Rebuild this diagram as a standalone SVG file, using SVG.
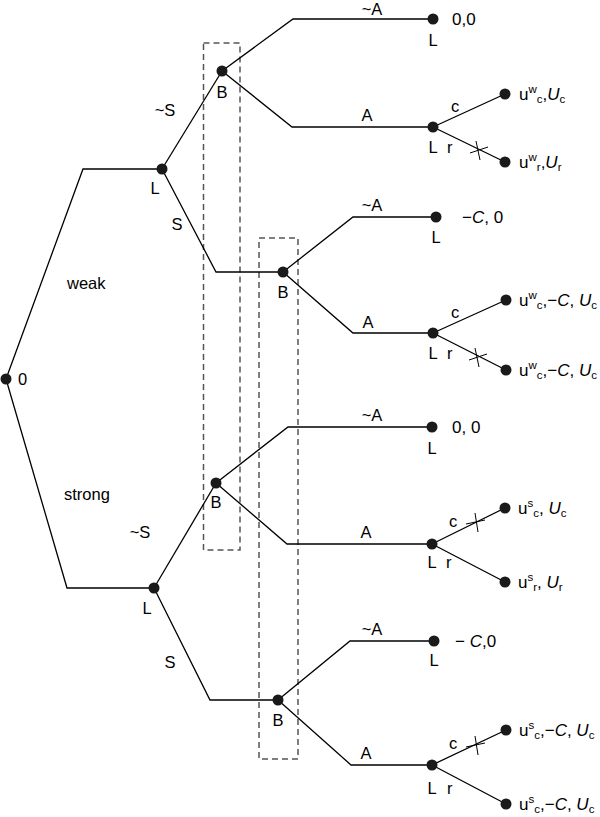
<svg xmlns="http://www.w3.org/2000/svg" width="600" height="817" viewBox="0 0 600 817">
<style>
.e{fill:none;stroke:#000;stroke-width:1.3;stroke-linejoin:miter}
.x{stroke:#000;stroke-width:1}
.n{fill:#1a1a1a}
.box{fill:none;stroke:#555;stroke-width:1.5;stroke-dasharray:6,4}
text{font-family:"Liberation Sans",Arial,sans-serif;font-size:16.5px;fill:#000}
.p{font-size:17px}
.i{font-style:italic}
.s{font-size:11.5px}
.m{text-anchor:middle}
</style>
<rect width="600" height="817" fill="#fff"/>
<g id="infosets">
<rect class="box" x="203.5" y="43" width="36.5" height="507"/>
<rect class="box" x="259" y="238" width="39" height="521"/>
</g>
<g id="connectors">
<path class="e" d="M6,379 L83,169 L162,169"/>
<path class="e" d="M6,379 L67,588 L154,588"/>
<path class="e" d="M162,169 L222,71"/>
<path class="e" d="M162,169 L216,272 L283,272"/>
<path class="e" d="M154,588 L216,483"/>
<path class="e" d="M154,588 L210,700 L278,700"/>
<path class="e" d="M222,71 L293,19 L433,19"/>
<path class="e" d="M222,71 L292,127 L433,127"/>
<path class="e" d="M283,272 L353,217 L436,217"/>
<path class="e" d="M283,272 L353,333 L433,333"/>
<path class="e" d="M216,483 L288,427 L432,427"/>
<path class="e" d="M216,483 L287,544 L432,544"/>
<path class="e" d="M278,700 L350,641 L434,641"/>
<path class="e" d="M278,700 L351,765 L432,765"/>
<path class="e" d="M433,127 L505,94 M433,127 L505,162"/>
<path class="e" d="M433,333 L506,300 M433,333 L506,370"/>
<path class="e" d="M432,544 L505,508 M432,544 L505,582"/>
<path class="e" d="M432,765 L506,730 M432,765 L506,804"/>
<path class="x" d="M470,153 L488,147 M476,141 L480,160"/>
<path class="x" d="M469,360 L487,354 M475,348 L479,367"/>
<path class="x" d="M466,524 L485,520 M475,513 L478,532"/>
<path class="x" d="M466,747 L485,743 M475,736 L478,755"/>
</g>
<g id="root"><circle class="n" cx="6" cy="379" r="5.5"/><text x="18" y="385">0</text></g>
<text x="67" y="289">weak</text>
<text x="64" y="500">strong</text>
<g id="Lw"><circle class="n" cx="162" cy="169" r="5.5"/><text class="m" x="155" y="194">L</text></g>
<text class="m" x="165" y="116">~S</text>
<text class="m" x="177" y="230">S</text>
<g id="Ls"><circle class="n" cx="154" cy="588" r="5.5"/><text class="m" x="147" y="614">L</text></g>
<text class="m" x="140" y="538">~S</text>
<text class="m" x="170" y="668">S</text>
<g id="B1"><circle class="n" cx="222" cy="71" r="5.5"/><text class="m" x="222" y="98">B</text></g>
<g id="B2"><circle class="n" cx="283" cy="272" r="5.5"/><text class="m" x="283" y="298">B</text></g>
<g id="B3"><circle class="n" cx="216" cy="483" r="5.5"/><text class="m" x="216" y="508">B</text></g>
<g id="B4"><circle class="n" cx="278" cy="700" r="5.5"/><text class="m" x="278" y="726">B</text></g>
<text class="m" x="372" y="15">~A</text>
<text class="m" x="367" y="121">A</text>
<text class="m" x="372" y="211">~A</text>
<text class="m" x="368" y="328">A</text>
<text class="m" x="372" y="421">~A</text>
<text class="m" x="366" y="538">A</text>
<text class="m" x="372" y="635">~A</text>
<text class="m" x="366" y="759">A</text>
<g id="leaf1"><circle class="n" cx="433" cy="19" r="5.5"/><text class="m" x="433" y="46">L</text><text class="p" x="452" y="25">0,0</text></g>
<g id="L1"><circle class="n" cx="433" cy="127" r="5.5"/><text class="m" x="433" y="153">L</text><text x="447" y="153">r</text><text x="451" y="112">c</text></g>
<g id="pay1"><circle class="n" cx="505" cy="94" r="5.5"/><text class="p" x="519" y="100">u<tspan class="s" dy="-7">w</tspan><tspan class="s" dy="10">c</tspan><tspan dy="-3">,</tspan><tspan class="i">U</tspan><tspan class="s" dy="3">c</tspan></text></g>
<g id="pay2"><circle class="n" cx="505" cy="162" r="5.5"/><text class="p" x="519" y="168">u<tspan class="s" dy="-7">w</tspan><tspan class="s" dy="10">r</tspan><tspan dy="-3">,</tspan><tspan class="i">U</tspan><tspan class="s" dy="3">r</tspan></text></g>
<g id="leaf2"><circle class="n" cx="436" cy="217" r="5.5"/><text class="m" x="436" y="243">L</text><text class="p" x="462" y="223">−<tspan class="i">C</tspan>, 0</text></g>
<g id="L2"><circle class="n" cx="433" cy="333" r="5.5"/><text class="m" x="433" y="359">L</text><text x="447" y="359">r</text><text x="451" y="318">c</text></g>
<g id="pay3"><circle class="n" cx="506" cy="300" r="5.5"/><text class="p" x="519" y="306">u<tspan class="s" dy="-7">w</tspan><tspan class="s" dy="10">c</tspan><tspan dy="-3">,−</tspan><tspan class="i">C</tspan>, <tspan class="i">U</tspan><tspan class="s" dy="3">c</tspan></text></g>
<g id="pay4"><circle class="n" cx="506" cy="370" r="5.5"/><text class="p" x="519" y="376">u<tspan class="s" dy="-7">w</tspan><tspan class="s" dy="10">c</tspan><tspan dy="-3">,−</tspan><tspan class="i">C</tspan>, <tspan class="i">U</tspan><tspan class="s" dy="3">c</tspan></text></g>
<g id="leaf3"><circle class="n" cx="432" cy="427" r="5.5"/><text class="m" x="432" y="454">L</text><text class="p" x="452" y="433">0, 0</text></g>
<g id="L3"><circle class="n" cx="432" cy="544" r="5.5"/><text class="m" x="432" y="568">L</text><text x="446" y="568">r</text><text x="449" y="527">c</text></g>
<g id="pay5"><circle class="n" cx="505" cy="508" r="5.5"/><text class="p" x="518" y="514">u<tspan class="s" dy="-7">s</tspan><tspan class="s" dy="10">c</tspan><tspan dy="-3">, </tspan><tspan class="i">U</tspan><tspan class="s" dy="3">c</tspan></text></g>
<g id="pay6"><circle class="n" cx="505" cy="582" r="5.5"/><text class="p" x="518" y="588">u<tspan class="s" dy="-7">s</tspan><tspan class="s" dy="10">r</tspan><tspan dy="-3">, </tspan><tspan class="i">U</tspan><tspan class="s" dy="3">r</tspan></text></g>
<g id="leaf4"><circle class="n" cx="434" cy="641" r="5.5"/><text class="m" x="434" y="666">L</text><text class="p" x="455" y="647">− <tspan class="i">C</tspan>,0</text></g>
<g id="L4"><circle class="n" cx="432" cy="765" r="5.5"/><text class="m" x="432" y="794">L</text><text x="447" y="794">r</text><text x="449" y="749">c</text></g>
<g id="pay7"><circle class="n" cx="506" cy="730" r="5.5"/><text class="p" x="519" y="736">u<tspan class="s" dy="-7">s</tspan><tspan class="s" dy="10">c</tspan><tspan dy="-3">,−</tspan><tspan class="i">C</tspan>, <tspan class="i">U</tspan><tspan class="s" dy="3">c</tspan></text></g>
<g id="pay8"><circle class="n" cx="506" cy="804" r="5.5"/><text class="p" x="519" y="810">u<tspan class="s" dy="-7">s</tspan><tspan class="s" dy="10">c</tspan><tspan dy="-3">,−</tspan><tspan class="i">C</tspan>, <tspan class="i">U</tspan><tspan class="s" dy="3">c</tspan></text></g>
</svg>
